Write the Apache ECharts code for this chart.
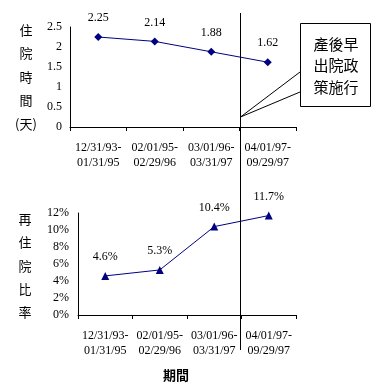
<!DOCTYPE html>
<html><head><meta charset="utf-8">
<script src="https://cdn.jsdelivr.net/npm/echarts@6/dist/echarts.min.js"></script>
<style>html,body{margin:0;padding:0;background:#fff}#c{width:379px;height:384px}</style>
</head><body><div id="c"></div>
<script>
const categories = ['12/31/93-\n01/31/95', '02/01/95-\n02/29/96', '03/01/96-\n03/31/97', '04/01/97-\n09/29/97'];
const stayDays = [2.25, 2.14, 1.88, 1.62];
const readmitPct = [4.6, 5.3, 10.4, 11.7];
const stayTicks = [0, 0.5, 1, 1.5, 2, 2.5];
const readmitTicks = [0, 2, 4, 6, 8, 10, 12];

const serif = '"Liberation Serif","Times New Roman",serif';
const cjk = '"Noto Sans CJK TC","Noto Sans CJK SC",sans-serif';
const navy = '#000080';

const chart = echarts.init(document.getElementById('c'), null, {renderer: 'canvas'});
const axisX = (gi) => ({
  type: 'category', gridIndex: gi, data: categories, boundaryGap: true,
  axisLine: {lineStyle: {color: '#000', width: 1}},
  axisTick: {show: true, length: 4, lineStyle: {color: '#000'}},
  axisLabel: {color: '#000', fontFamily: serif, fontSize: 12, lineHeight: 15, margin: 13, interval: 0}
});
chart.setOption({
  animation: false,
  grid: [
    {left: 70, top: 27, width: 226, height: 100},
    {left: 78, top: 213, width: 218, height: 102}
  ],
  xAxis: [axisX(0), axisX(1)],
  yAxis: [
    {type: 'value', gridIndex: 0, min: stayTicks[0], max: stayTicks[stayTicks.length-1], interval: 0.5,
     axisLine: {show: true, lineStyle: {color: '#000'}}, axisTick: {show: false}, splitLine: {show: false},
     axisLabel: {color: '#000', fontFamily: serif, fontSize: 12, margin: 8}},
    {type: 'value', gridIndex: 1, min: readmitTicks[0], max: readmitTicks[readmitTicks.length-1], interval: 2,
     axisLine: {show: true, lineStyle: {color: '#000'}}, axisTick: {show: false}, splitLine: {show: false},
     axisLabel: {color: '#000', fontFamily: serif, fontSize: 12, margin: 9, formatter: '{value}%'}}
  ],
  series: [
    {type: 'line', xAxisIndex: 0, yAxisIndex: 0, data: stayDays, symbol: 'diamond', symbolSize: 8,
     lineStyle: {color: navy, width: 1}, itemStyle: {color: navy},
     label: {show: true, position: 'top', distance: 9, color: '#000', fontFamily: serif, fontSize: 12}},
    {type: 'line', xAxisIndex: 1, yAxisIndex: 1, data: readmitPct, symbol: 'triangle', symbolSize: 8,
     lineStyle: {color: navy, width: 1}, itemStyle: {color: navy},
     label: {show: true, position: 'top', distance: 9, color: '#000', fontFamily: serif, fontSize: 12, formatter: '{c}%'}}
  ]
});

// policy divider between 3rd and 4th category
const xa = chart.convertToPixel({xAxisIndex: 0}, 2);
const xb = chart.convertToPixel({xAxisIndex: 0}, 3);
const xDiv = Math.round((xa + xb) / 2) + 0.5;
const yBase0 = chart.convertToPixel({yAxisIndex: 0}, 0);

const zr = chart.getZr();
const G = echarts.graphic;
const add = (el) => { el.z = 100; zr.add(el); return el; };
add(new G.Line({shape: {x1: xDiv, y1: 13, x2: xDiv, y2: 350}, style: {stroke: '#000', lineWidth: 1}}));
add(new G.Polyline({shape: {points: [[300, 72], [xDiv, yBase0 - 10], [300, 92]]}, style: {stroke: '#000', lineWidth: 1, fill: null}}));
const box = add(new G.Rect({shape: {x: 300.5, y: 23.5, width: 70, height: 83}, style: {fill: '#fff', stroke: '#000', lineWidth: 1}}));
box.z = 101;
const txt = (s, x, y, font) => {
  const t = new G.Text({x: x, y: y, style: {text: s, align: 'center', verticalAlign: 'middle', font: font, fill: '#000'}});
  t.z = 102; zr.add(t); return t;
};
txt('產後早', 336, 44, '15px ' + cjk);
txt('出院政', 336, 65, '15px ' + cjk);
txt('策施行', 336, 87, '15px ' + cjk);
txt('期間', 176, 375, 'bold 13px ' + cjk);
['住', '院', '時', '間', '(天)'].forEach((c, i) => txt(c, 26, 30 + i * 23.5, '13px ' + cjk));
['再', '住', '院', '比', '率'].forEach((c, i) => txt(c, 25, 219 + i * 23.3, '13px ' + cjk));
</script></body></html>
